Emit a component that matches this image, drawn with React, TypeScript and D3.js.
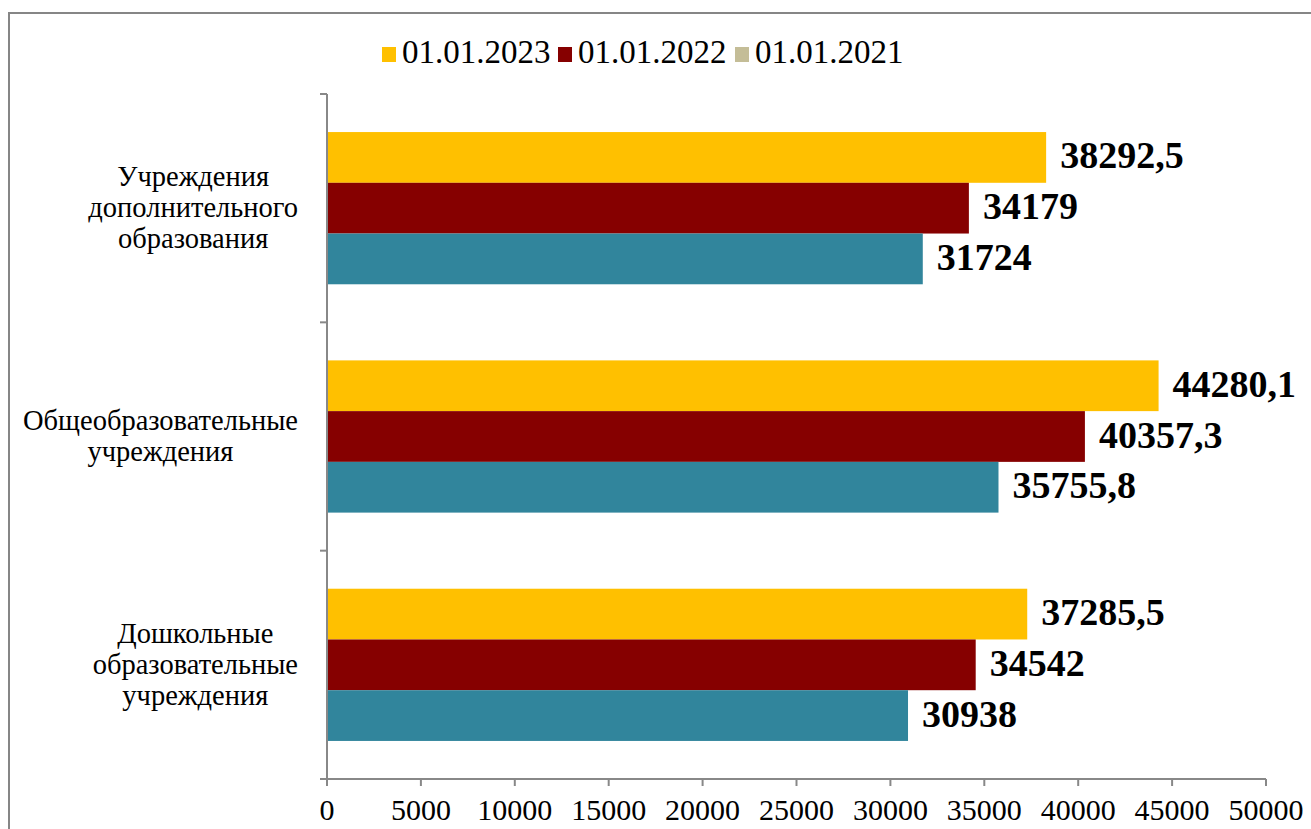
import React from "react";
import * as d3 from "d3";

const categories = [
  ["Учреждения", "дополнительного", "образования"],
  ["Общеобразовательные", "учреждения"],
  ["Дошкольные", "образовательные", "учреждения"],
];
const seriesNames = ["01.01.2023", "01.01.2022", "01.01.2021"];
const values2023 = [38292.5, 44280.1, 37285.5];
const values2022 = [34179, 40357.3, 34542];
const values2021 = [31724, 35755.8, 30938];
const xTicks = [0, 5000, 10000, 15000, 20000, 25000, 30000, 35000, 40000, 45000, 50000];

const barColors = ["#FFC000", "#860000", "#31859C"];
const legendColors = ["#FFC000", "#860000", "#C4BD97"];

const W = 1311;
const H = 829;
const plot = { left: 327, right: 1266, top: 94, bottom: 779 };
const font = "'Liberation Serif', 'Times New Roman', serif";
const catFontSize = 28.5;

const fmt = (v: number) => String(v).replace(".", ",");

let ctx: CanvasRenderingContext2D | null = null;
function measure(s: string, size: number) {
  if (!ctx) ctx = document.createElement("canvas").getContext("2d");
  if (!ctx) return s.length * size * 0.45;
  ctx.font = `${size}px 'Liberation Serif'`;
  return ctx.measureText(s).width;
}

export default function App() {
  const x = d3.scaleLinear().domain([0, 50000]).range([plot.left, plot.right]);
  const y0 = d3
    .scaleBand<number>()
    .domain([0, 1, 2])
    .range([plot.top, plot.bottom])
    .paddingInner(0)
    .paddingOuter(0);
  const band = y0.bandwidth();
  const inner = d3
    .scaleBand<number>()
    .domain([0, 1, 2])
    .range([band / 6, band - band / 6])
    .padding(0);
  const series = [values2023, values2022, values2021];
  const legendX = [382, 558, 735];
  const ts = { fontFamily: font };

  return (
    <svg
      width={W}
      height={H}
      style={{ position: "absolute", left: 0, top: 0, background: "#fff" }}
    >
      <rect x={9} y={13} width={W + 20} height={H + 20} fill="none" stroke="#868686" strokeWidth={2} />
      {/* legend */}
      {seriesNames.map((n, i) => (
        <g key={n}>
          <rect x={legendX[i]} y={47} width={14} height={15} fill={legendColors[i]} />
          <text x={legendX[i] + 20} y={63} fontSize={33} fill="#000" style={ts}>
            {n}
          </text>
        </g>
      ))}
      {/* bars */}
      {categories.map((c, ci) =>
        series.map((vals, si) => {
          const yy = (y0(ci) as number) + (inner(si) as number);
          const h = inner.bandwidth();
          return (
            <g key={`${ci}-${si}`}>
              <rect x={x(0)} y={yy} width={x(vals[ci]) - x(0)} height={h} fill={barColors[si]} />
              <text
                x={x(vals[ci]) + 14}
                y={yy + h / 2 + 11}
                fontSize={38}
                fontWeight="bold"
                fill="#000"
                style={ts}
              >
                {fmt(vals[ci])}
              </text>
            </g>
          );
        })
      )}
      {/* y axis */}
      <line x1={plot.left} x2={plot.left} y1={plot.top} y2={plot.bottom} stroke="#888" strokeWidth={2} />
      {[0, 1, 2, 3].map((i) => {
        const yy = plot.top + i * band;
        return <line key={i} x1={plot.left - 7} x2={plot.left} y1={yy} y2={yy} stroke="#888" strokeWidth={2} />;
      })}
      {categories.map((c, ci) => {
        const cy = (y0(ci) as number) + band / 2;
        const lh = 31;
        const start = cy - ((c.length - 1) * lh) / 2;
        const wmax = Math.max(...c.map((l) => measure(l, catFontSize)));
        const cx = 298 - wmax / 2;
        return (
          <text key={ci} textAnchor="middle" fontSize={catFontSize} fill="#000" style={ts}>
            {c.map((l, li) => (
              <tspan key={li} x={cx} y={start + li * lh + 9}>
                {l}
              </tspan>
            ))}
          </text>
        );
      })}
      {/* x axis */}
      <line x1={plot.left - 7} x2={plot.right} y1={plot.bottom} y2={plot.bottom} stroke="#888" strokeWidth={2} />
      {xTicks.map((t) => (
        <g key={t}>
          <line x1={x(t)} x2={x(t)} y1={plot.bottom} y2={plot.bottom + 7} stroke="#888" strokeWidth={2} />
          <text x={x(t)} y={820} textAnchor="middle" fontSize={30} fill="#000" style={ts}>
            {t}
          </text>
        </g>
      ))}
    </svg>
  );
}
